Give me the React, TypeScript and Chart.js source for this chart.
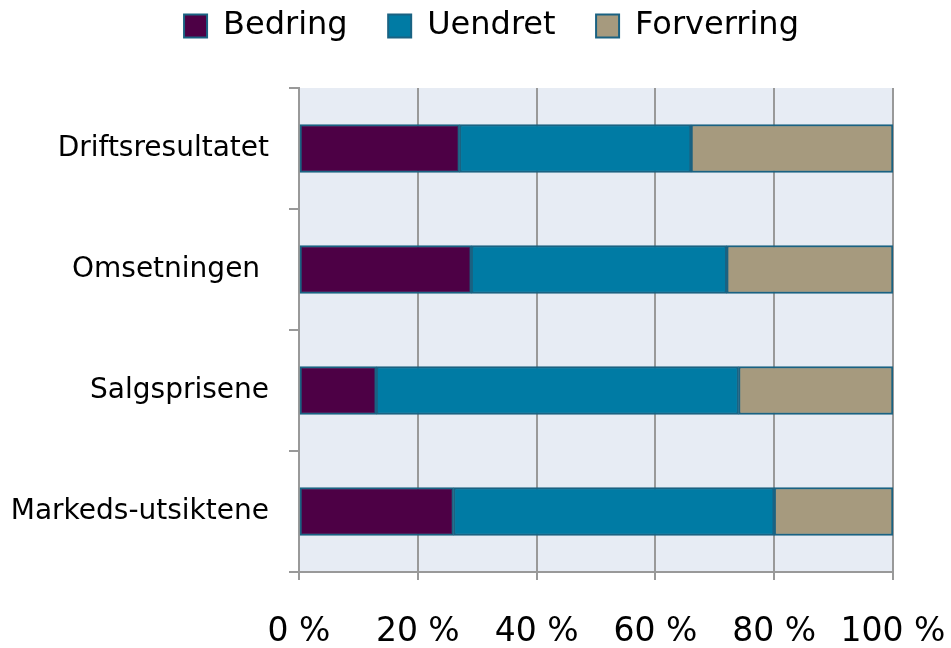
import React, { useEffect, useRef } from "react";
import { Chart, registerables } from "chart.js";

Chart.register(...registerables);

const categories = ["Driftsresultatet", "Omsetningen ", "Salgsprisene", "Markeds-utsiktene"];
const bedring = [27, 29, 13, 26];
const uendret = [39, 43, 61, 54];
const forverring = [34, 28, 26, 20];
const xTicks = [0, 20, 40, 60, 80, 100];

const FONT = "'DejaVu Sans', Verdana, sans-serif";
const GRID = "#999999";
const EDGE = "#1A6282";

const bgPlugin = {
  id: "plotBg",
  beforeDraw(chart: any) {
    const { ctx, chartArea } = chart;
    ctx.save();
    ctx.fillStyle = "#E7ECF4";
    ctx.fillRect(chartArea.left, chartArea.top, chartArea.right - chartArea.left, chartArea.bottom - chartArea.top);
    ctx.restore();
  },
};

const legendHeightPlugin = {
  id: "legendHeight",
  beforeInit(chart: any) {
    const lg = chart.legend;
    if (!lg) return;
    const orig = lg.fit;
    lg.fit = function () {
      orig.call(this);
      this.height = 88;
    };
  },
  afterLayout(chart: any) {
    const lg = chart.legend;
    if (!lg) return;
    lg.left += 16;
    lg.right += 16;
  },
};

export default function App() {
  const ref = useRef<HTMLCanvasElement | null>(null);
  useEffect(() => {
    if (!ref.current) return;
    const chart = new Chart(ref.current, {
      type: "bar",
      data: {
        labels: categories,
        datasets: [
          { label: "Bedring", data: bedring, backgroundColor: "#4D0045", borderColor: EDGE, borderWidth: 2 },
          { label: "Uendret", data: uendret, backgroundColor: "#007BA4", borderColor: EDGE, borderWidth: 2 },
          { label: "Forverring", data: forverring, backgroundColor: "#A69A7E", borderColor: EDGE, borderWidth: 2 },
        ],
      },
      options: {
        animation: false,
        responsive: false,
        indexAxis: "y",
        layout: { padding: { left: 0, right: 0, top: 0, bottom: 0 } },
        datasets: { bar: { barThickness: 48, borderSkipped: false } },
        plugins: {
          legend: {
            position: "top",
            labels: {
              font: { family: FONT, size: 32 },
              color: "#000",
              boxWidth: 23,
              boxHeight: 23,
              padding: 10,
              generateLabels(chart: any) {
                const items = Chart.defaults.plugins.legend.labels.generateLabels(chart);
                return items.map((it: any, i: number) => ({
                  ...it,
                  text: i < items.length - 1 ? it.text + "   " : it.text,
                }));
              },
            },
          },
          tooltip: { enabled: false },
        },
        scales: {
          x: {
            stacked: true,
            min: 0,
            max: 100,
            afterBuildTicks(scale: any) {
              scale.ticks = xTicks.map((v) => ({ value: v }));
            },
            afterFit(scale: any) {
              scale.height = 76;
              scale.paddingRight = 58;
              scale.paddingLeft = 0;
            },
            ticks: {
              font: { family: FONT, size: 33 },
              color: "#000",
              padding: 33,
              callback: (v: any) => v + " %",
              maxRotation: 0,
            },
            grid: { color: GRID, lineWidth: 2, tickLength: 8 },
            border: { color: GRID, width: 2 },
          },
          y: {
            stacked: true,
            afterFit(scale: any) {
              scale.width = 299;
            },
            ticks: { font: { family: FONT, size: 28 }, color: "#000", padding: 20 },
            grid: { offset: true, drawOnChartArea: false, color: GRID, lineWidth: 2, tickLength: 10 },
            border: { color: GRID, width: 2 },
          },
        },
      },
      plugins: [bgPlugin, legendHeightPlugin],
    } as any);
    return () => chart.destroy();
  }, []);
  return (
    <div style={{ position: "absolute", left: 0, top: 0, width: 951, height: 648, background: "#fff" }}>
      <canvas ref={ref} width={951} height={648} style={{ width: 951, height: 648 }} />
    </div>
  );
}
